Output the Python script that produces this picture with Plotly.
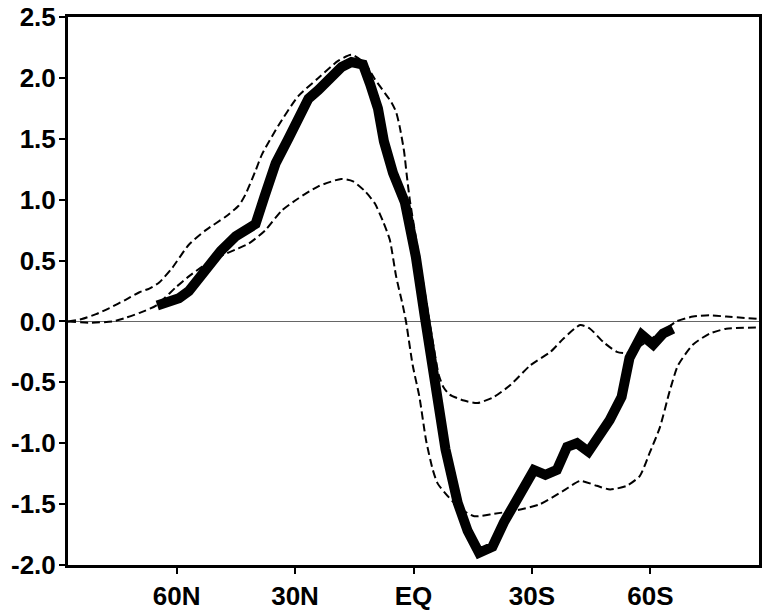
import plotly.graph_objects as go

# Solid (thick) curve: latitude (deg, + = N) and value
solid_lat = [64.9, 61.9, 59.4, 56.9, 54.3, 51.3, 48.8, 45.0, 42.5, 40.0, 37.7, 34.9,
             31.7, 29.2, 26.6, 24.1, 21.1, 18.2, 15.7, 12.8, 11.0, 9.0, 7.5, 5.2, 2.2,
             -0.6, -2.8, -5.5, -8.1, -11.2, -13.7, -16.6, -20.0, -22.9, -26.7, -30.5,
             -33.4, -36.3, -38.9, -41.4, -44.3, -49.7, -52.7, -54.7, -57.8, -60.7,
             -63.2, -65.7]
solid_val = [0.13, 0.16, 0.19, 0.25, 0.36, 0.50, 0.58, 0.70, 0.75, 0.80, 1.03, 1.30,
             1.50, 1.67, 1.83, 1.90, 1.99, 2.09, 2.13, 2.11, 1.95, 1.75, 1.48, 1.22, 0.98,
             0.53, 0.05, -0.52, -1.05, -1.49, -1.72, -1.90, -1.85, -1.65, -1.43, -1.22,
             -1.26, -1.22, -1.03, -1.00, -1.07, -0.81, -0.62, -0.30, -0.11, -0.19,
             -0.10, -0.06]

# Dashed curve A (high NH peak, shallow SH trough)
dashA_lat = [87.5, 84.0, 80.4, 77.0, 72.8, 69.4, 66.9, 64.4, 61.1, 56.9, 52.6, 47.6,
             44.3, 42.6, 40.1, 38.4, 34.2, 29.2, 24.1, 19.1, 15.7, 12.3, 9.8, 5.6, 4.4,
             3.5, 2.4, 1.7, 0.9, -1.1, -3.6, -5.1, -6.4, -7.6, -9.1, -12.8, -16.2,
             -20.4, -24.6, -29.6, -34.7, -38.0, -42.2, -44.7, -48.1, -51.5, -54.0,
             -56.5, -60.3, -63.6, -66.6, -70.8, -75.0, -79.2, -87.5]
dashA_val = [0.0, 0.02, 0.06, 0.11, 0.18, 0.24, 0.27, 0.32, 0.44, 0.63, 0.75, 0.86,
             0.95, 1.04, 1.23, 1.37, 1.61, 1.85, 2.00, 2.14, 2.19, 2.12, 1.99, 1.80, 1.72,
             1.60, 1.40, 1.20, 0.99, 0.59, 0.09, -0.21, -0.44, -0.54, -0.60, -0.65, -0.67,
             -0.62, -0.52, -0.36, -0.25, -0.14, -0.03, -0.06, -0.17, -0.25, -0.26,
             -0.22, -0.14, -0.07, 0.0, 0.04, 0.05, 0.04, 0.02]

# Dashed curve B (low NH peak, deep SH trough)
dashB_lat = [87.5, 82.0, 76.2, 72.9, 69.4, 65.2, 60.2, 56.9, 53.5, 49.3, 45.1, 41.7,
             37.5, 33.4, 29.2, 24.1, 18.3, 15.3, 12.3, 9.8, 7.7, 6.0, 4.4, 2.7, 1.9,
             0.2, -1.5, -3.2, -4.9, -6.1, -9.1, -12.0, -15.4, -20.4, -26.3, -32.1,
             -38.0, -42.2, -46.4, -49.8, -54.0, -57.3, -59.8, -62.4, -64.9, -67.0,
             -70.8, -75.0, -79.2, -87.5]
dashB_val = [0.0, -0.01, 0.0, 0.03, 0.07, 0.13, 0.28, 0.37, 0.45, 0.53, 0.59, 0.64,
             0.75, 0.91, 1.01, 1.11, 1.17, 1.15, 1.07, 0.97, 0.82, 0.67, 0.37, 0.13, 0.0,
             -0.36, -0.62, -0.98, -1.22, -1.33, -1.45, -1.54, -1.60, -1.58, -1.55, -1.50,
             -1.39, -1.31, -1.35, -1.38, -1.35, -1.27, -1.08, -0.87, -0.57, -0.36,
             -0.19, -0.10, -0.06, -0.05]

x_tickvals = [60, 30, 0, -30, -60]
x_ticktext = ["60N", "30N", "EQ", "30S", "60S"]
y_tickvals = [2.5, 2.0, 1.5, 1.0, 0.5, 0.0, -0.5, -1.0, -1.5, -2.0]
y_ticktext = ["2.5", "2.0", "1.5", "1.0", "0.5", "0.0", "-0.5", "-1.0", "-1.5", "-2.0"]

fig = go.Figure()
for lat, val in [(dashA_lat, dashA_val), (dashB_lat, dashB_val)]:
    fig.add_trace(go.Scatter(x=lat, y=val, mode="lines",
                             line=dict(color="black", width=2, dash="8px,4px",
                                       shape="spline", smoothing=0.6),
                             showlegend=False, hoverinfo="skip"))
fig.add_trace(go.Scatter(x=solid_lat, y=solid_val, mode="lines",
                         line=dict(color="black", width=10),
                         showlegend=False, hoverinfo="skip"))

tickfont = dict(family="Liberation Sans", size=26, color="black", weight="bold")
fig.update_layout(
    width=764, height=613,
    margin=dict(l=68, r=2, t=13, b=42),
    paper_bgcolor="white", plot_bgcolor="white",
    xaxis=dict(range=[87.5, -87.5], tickvals=x_tickvals, ticktext=x_ticktext,
               showgrid=False, zeroline=False, showline=True, linecolor="black",
               linewidth=3, mirror=True, ticks="outside", ticklen=6, tickwidth=2,
               tickcolor="black", tickfont=tickfont, ticklabeloverflow="allow"),
    yaxis=dict(range=[-2.0005, 2.5005], tickvals=y_tickvals, ticktext=y_ticktext,
               showgrid=False, zeroline=True, zerolinecolor="#666666", zerolinewidth=1,
               showline=True, linecolor="black", linewidth=3, mirror=True,
               ticks="outside", ticklen=6, tickwidth=2, tickcolor="black",
               tickfont=tickfont, ticklabeloverflow="allow", ticklabelstandoff=-2),
)
fig.write_html("out.html", config={"displayModeBar": False},
               post_script="document.body.style.margin='0';document.body.style.overflow='hidden';")
